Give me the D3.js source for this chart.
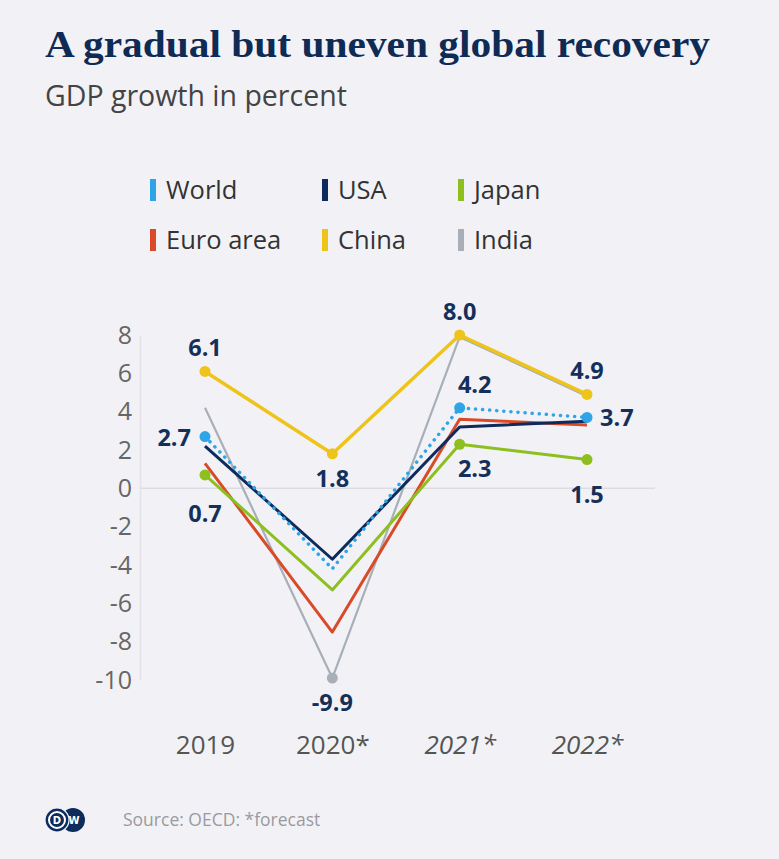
<!DOCTYPE html>
<html>
<head>
<meta charset="utf-8">
<script src="https://cdn.jsdelivr.net/npm/d3@7"></script>
<style>
  html, body { margin: 0; padding: 0; background: #f2f2f6; }
  svg { display: block; }
</style>
</head>
<body>
<svg id="chart" width="779" height="859"></svg>
<script>
// ---- data ----
const years = ["2019", "2020*", "2021*", "2022*"];
const italicYears = ["2021*", "2022*"];
const yTicks = [8, 6, 4, 2, 0, -2, -4, -6, -8, -10];
const seriesNames = ["India", "Euro area", "Japan", "USA", "World", "China"];
const legendOrder = ["World", "USA", "Japan", "Euro area", "China", "India"];
const india = [4.2, -9.9, 7.9, 4.8];
const euroArea = [1.3, -7.5, 3.6, 3.3];
const japan = [0.7, -5.3, 2.3, 1.5];
const usa = [2.2, -3.7, 3.2, 3.5];
const world = [2.7, -4.2, 4.2, 3.7];
const china = [6.1, 1.8, 8.0, 4.9];
// labelled points: [series, year index, placement]
const labelled = [
  ["China", 0, "above"], ["World", 0, "left"], ["Japan", 0, "below"],
  ["China", 1, "below"], ["India", 1, "below"],
  ["China", 2, "above"], ["World", 2, "above"], ["Japan", 2, "below"],
  ["China", 3, "above"], ["World", 3, "right"], ["Japan", 3, "below"]
];

const values = { "India": india, "Euro area": euroArea, "Japan": japan, "USA": usa, "World": world, "China": china };
const colors = { "World": "#2fa4e7", "USA": "#0d2b5c", "Japan": "#8dbf1e", "Euro area": "#d84a28", "China": "#efc41a", "India": "#a8afb8" };
const widths = { "World": 3.5, "USA": 3, "Japan": 3, "Euro area": 3, "China": 3.5, "India": 2.2 };
const fmtLabel = v => v.toFixed(1);

const sans = "'Open Sans', 'Noto Sans', sans-serif";
const svg = d3.select("#chart");
svg.append("rect").attr("width", 779).attr("height", 859).attr("fill", "#f2f2f6");

// Title & subtitle
svg.append("text").attr("x", 45).attr("y", 57)
  .attr("font-family", "'Liberation Serif', 'DejaVu Serif', serif")
  .attr("font-weight", "bold").attr("font-size", 38).attr("fill", "#0e2b55")
  .attr("textLength", 665).attr("lengthAdjust", "spacingAndGlyphs")
  .text("A gradual but uneven global recovery");
svg.append("text").attr("x", 45).attr("y", 106)
  .attr("font-family", sans)
  .attr("font-size", 28.5).attr("fill", "#444")
  .text("GDP growth in percent");

// Legend
const legendX = [150, 322, 458];
const legendY = [190, 240];
legendOrder.forEach((name, i) => {
  const col = i % 3, row = Math.floor(i / 3);
  const g = svg.append("g").attr("transform", `translate(${legendX[col]},${legendY[row]})`);
  g.append("rect").attr("x", 0).attr("y", -11).attr("width", 6).attr("height", 22).attr("fill", colors[name]);
  g.append("text").attr("x", 16).attr("y", 9)
    .attr("font-family", sans)
    .attr("font-size", 25.5).attr("fill", "#333").text(name);
});

// Scales
const x = d3.scalePoint().domain(years).range([205, 587]);
const y = d3.scaleLinear().domain([-10, 8]).range([680, 335]);

// Y axis (faint line + labels)
const yAxis = d3.axisLeft(y).tickValues(yTicks).tickSize(0).tickPadding(8).tickFormat(d => String(d));
const yg = svg.append("g").attr("transform", "translate(140,0)").call(yAxis);
yg.select(".domain").attr("stroke", "#e2e2e8").attr("stroke-width", 1.5);
yg.selectAll("text").attr("font-family", sans)
  .attr("font-size", 25).attr("fill", "#666");

// zero line
svg.append("line").attr("x1", 140).attr("x2", 655).attr("y1", y(0)).attr("y2", y(0))
  .attr("stroke", "#dcdce2").attr("stroke-width", 1.5);

// X axis labels
const xAxis = d3.axisBottom(x).tickSize(0).tickPadding(0);
const xg = svg.append("g").attr("transform", "translate(0,736)").call(xAxis);
xg.select(".domain").remove();
xg.selectAll("text").attr("font-family", sans)
  .attr("font-size", 26).attr("fill", "#555")
  .attr("font-style", d => italicYears.includes(d) ? "italic" : "normal");

// Lines
const line = d3.line().x((d, i) => x(years[i])).y(d => y(d));
seriesNames.forEach(name => {
  svg.append("path").datum(values[name])
    .attr("d", line).attr("fill", "none")
    .attr("stroke", colors[name]).attr("stroke-width", widths[name])
    .attr("stroke-linejoin", "round")
    .attr("stroke-dasharray", name === "World" ? "0.1 7" : null)
    .attr("stroke-linecap", name === "World" ? "round" : "butt");
});

// Markers & labels
const belowExtra = { "Japan-0": 14, "Japan-3": 10 };
labelled.forEach(([name, i, pos]) => {
  const v = values[name][i];
  const cx = x(years[i]), cy = y(v);
  svg.append("circle").attr("cx", cx).attr("cy", cy).attr("r", 5.5).attr("fill", colors[name]);
  let tx = cx, ty = cy, anchor = "middle";
  if (pos === "above") { ty = cy - 15; }
  else if (pos === "below") { ty = cy + 33 + (belowExtra[name + "-" + i] || 0); }
  else if (pos === "left") { tx = cx - 14; ty = cy + 9; anchor = "end"; }
  else if (pos === "right") { tx = cx + 13; ty = cy + 9; anchor = "start"; }
  if (name === "World" && pos === "above") tx = cx + 15;
  if (name === "Japan" && i === 2) tx = cx + 15;
  svg.append("text").attr("x", tx).attr("y", ty).attr("text-anchor", anchor)
    .attr("font-family", sans).attr("font-weight", "bold").attr("font-size", 23.5)
    .attr("fill", "#14305a").text(fmtLabel(v));
});

// Footer: DW logo + source
const logo = svg.append("g").attr("transform", "translate(45,808)");
logo.append("circle").attr("cx", 28).attr("cy", 12).attr("r", 12).attr("fill", "#0d2b5c");
logo.append("circle").attr("cx", 12).attr("cy", 12).attr("r", 12).attr("fill", "#0d2b5c").attr("stroke", "#f2f2f6").attr("stroke-width", 1.2);
logo.append("circle").attr("cx", 12).attr("cy", 12).attr("r", 8).attr("fill", "none").attr("stroke", "#fff").attr("stroke-width", 2);
logo.append("text").attr("x", 12).attr("y", 16).attr("text-anchor", "middle").attr("font-family", "'DejaVu Sans', sans-serif")
  .attr("font-weight", "bold").attr("font-size", 10).attr("fill", "#fff").text("D");
logo.append("text").attr("x", 29).attr("y", 16).attr("text-anchor", "middle").attr("font-family", "'DejaVu Sans', sans-serif")
  .attr("font-weight", "bold").attr("font-size", 10).attr("fill", "#fff").text("W");
svg.append("text").attr("x", 123).attr("y", 826)
  .attr("font-family", sans)
  .attr("font-size", 17.5).attr("fill", "#9a9aa0").text("Source: OECD: *forecast");
</script>
</body>
</html>
